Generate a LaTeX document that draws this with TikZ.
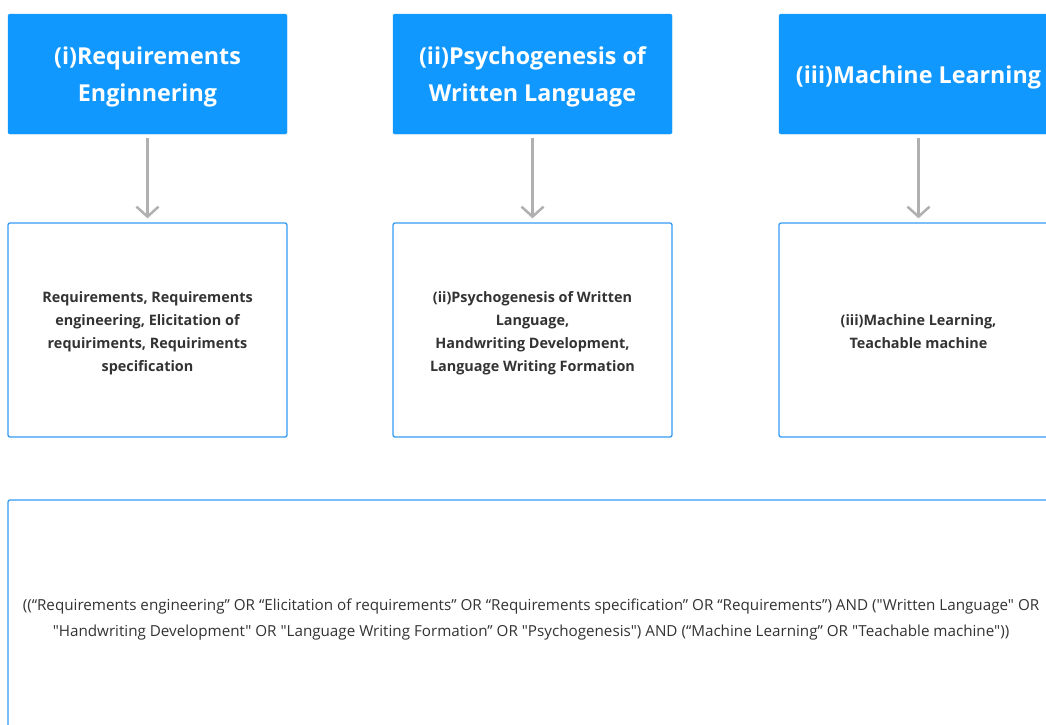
\documentclass[tikz,border=0pt]{standalone}
\usepackage{fontspec}
\setmainfont{Open Sans}
% plain family keeps straight double quotes as typed
\newfontfamily\queryfont{Open Sans}
\usetikzlibrary{arrows.meta}
\definecolor{headblue}{RGB}{17,152,255}
\definecolor{edgeblue}{RGB}{52,155,245}
\definecolor{inkgray}{RGB}{51,51,51}
\definecolor{arrowgray}{RGB}{176,176,176}
\begin{document}
\begin{tikzpicture}[x=1pt,y=-1pt,
  headbox/.style={fill=headblue, draw=headblue, rounded corners=1.5pt,
    minimum width=279pt, minimum height=120pt, inner sep=0pt},
  headtext/.style={inner sep=0pt, align=center, text=white,
    font=\bfseries\fontsize{23.3}{37}\selectfont},
  termbox/.style={fill=white, draw=edgeblue, line width=1.3pt, rounded corners=2pt,
    minimum width=279pt, minimum height=214pt, inner sep=0pt},
  termtext/.style={inner sep=0pt, align=center, text=inkgray,
    font=\bfseries\fontsize{14.4}{23}\selectfont},
  querybox/.style={fill=white, draw=edgeblue, line width=1.3pt, rounded corners=2pt,
    minimum width=1046pt, minimum height=236pt, inner sep=0pt},
  querytext/.style={inner sep=0pt, align=center, text=inkgray,
    font=\queryfont\fontsize{15.2}{26}\selectfont},
  flow/.style={draw=arrowgray, line width=2.5pt, shorten <=4pt, shorten >=4pt,
    -{Straight Barb[length=10pt,width=22pt,line width=2.5pt]}}
]
\useasboundingbox (0,0) rectangle (1046,724);
\clip (0,0) rectangle (1046,724);

% topic headers
\node[headbox] (h1) at (147.5,74) {};
\node[headbox] (h2) at (532.5,74) {};
\node[headbox] (h3) at (918.5,74) {};
\node[headtext] (h1t) at ([yshift=-3pt]h1.center) {(i)Requirements\\Enginnering};
\node[headtext] (h2t) at ([yshift=-3pt]h2.center) {(ii)Psychogenesis of\\Written Language};
\node[headtext] (h3t) at ([yshift=-3pt]h3.center) {(iii)Machine Learning};

% keyword boxes
\node[termbox] (t1) at (147.5,330) {};
\node[termbox] (t2) at (532.5,330) {};
\node[termbox] (t3) at (918.5,330) {};
\node[termtext] (t1t) at ([yshift=-3pt]t1.center) {Requirements, Requirements\\engineering, Elicitation of\\requiriments, Requiriments\\specification};
\node[termtext] (t2t) at ([yshift=-3pt]t2.center) {(ii)Psychogenesis of Written\\Language,\\Handwriting Development,\\Language Writing Formation};
\node[termtext] (t3t) at ([yshift=-2pt]t3.center) {(iii)Machine Learning,\\Teachable machine};

% header to keywords
\draw[flow] (h1) -- (t1);
\draw[flow] (h2) -- (t2);
\draw[flow] (h3) -- (t3);

% combined search string
\node[querybox] (q) at (531,618) {};
\node[querytext] (qt) at ([yshift=-1pt]q.center) {((“Requirements engineering” OR “Elicitation of requirements” OR “Requirements specification” OR “Requirements”) AND ("Written Language" OR\\"Handwriting Development" OR "Language Writing Formation” OR "Psychogenesis") AND (“Machine Learning” OR "Teachable machine"))};
\end{tikzpicture}
\end{document}
